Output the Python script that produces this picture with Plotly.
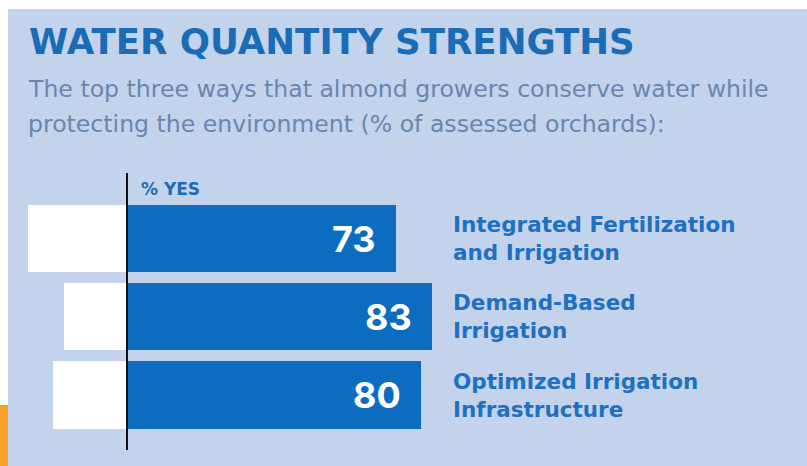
import plotly.graph_objects as go

categories = ["Integrated Fertilization<br>and Irrigation",
              "Demand-Based<br>Irrigation",
              "Optimized Irrigation<br>Infrastructure"]
yes_vals = [73, 83, 80]
no_vals = [27, 17, 20]
value_labels = ["73", "83", "80"]

W, H = 807, 466
BG = "#c3d3ec"
BAR_BLUE = "#0b6cc0"
TITLE_BLUE = "#1a6cb6"
LABEL_BLUE = "#1f70c0"
SUB_GRAY = "#6a86ad"

ypos = list(range(len(categories)))

fig = go.Figure()
fig.add_trace(go.Bar(y=ypos, x=[-v for v in no_vals], orientation="h",
                     marker=dict(color="white", line=dict(width=0)),
                     width=0.86, hoverinfo="skip", showlegend=False))
fig.add_trace(go.Bar(y=ypos, x=yes_vals, orientation="h",
                     marker=dict(color=BAR_BLUE, line=dict(width=0)),
                     width=0.86, hoverinfo="skip", showlegend=False))

s = 3.68
x0 = -127 / s
x1 = (W - 127) / s
yc, yu = 238.5, 78.3
y_top = -yc / yu
y_bot = (H - yc) / yu

annotations = []
for i, (v, t) in enumerate(zip(yes_vals, value_labels)):
    annotations.append(dict(x=v, y=i, xref="x", yref="y", text=t, showarrow=False,
                            xanchor="right", yanchor="middle", xshift=-18,
                            font=dict(family="Inter", size=36, color="white", weight="bold")))
for i, c in enumerate(categories):
    annotations.append(dict(x=451 / W, y=i, xref="paper", yref="y", text=c, showarrow=False,
                            xanchor="left", yanchor="middle", align="left",
                            font=dict(family="DejaVu Sans", size=21.5, color=LABEL_BLUE, weight="bold")))
annotations.append(dict(x=27 / W, y=1 - 41 / H, xref="paper", yref="paper",
                        text="WATER QUANTITY STRENGTHS", showarrow=False,
                        xanchor="left", yanchor="middle",
                        font=dict(family="DejaVu Sans", size=35.6, color=TITLE_BLUE, weight="bold")))
annotations.append(dict(x=26 / W, y=1 - 89 / H, xref="paper", yref="paper",
                        text="The top three ways that almond growers conserve water while",
                        showarrow=False, xanchor="left", yanchor="middle",
                        font=dict(family="DejaVu Sans", size=23.6, color=SUB_GRAY)))
annotations.append(dict(x=26 / W, y=1 - 124 / H, xref="paper", yref="paper",
                        text="protecting the environment (% of assessed orchards):",
                        showarrow=False, xanchor="left", yanchor="middle",
                        font=dict(family="DejaVu Sans", size=23.6, color=SUB_GRAY)))
annotations.append(dict(x=139 / W, y=1 - 189 / H, xref="paper", yref="paper",
                        text="% YES", showarrow=False, xanchor="left", yanchor="middle",
                        font=dict(family="DejaVu Sans", size=17, color=TITLE_BLUE, weight="bold")))

shapes = [
    dict(type="rect", xref="paper", yref="paper", x0=8 / W, x1=1, y0=0, y1=1 - 9 / H,
         fillcolor=BG, line=dict(width=0), layer="below"),
    dict(type="rect", xref="paper", yref="paper", x0=0, x1=8 / W, y0=0, y1=1 - 405 / H,
         fillcolor="#f6a02a", line=dict(width=0), layer="below"),
    dict(type="line", xref="x", yref="y", x0=0, x1=0,
         y0=(173 - yc) / yu, y1=(450 - yc) / yu,
         line=dict(color="#111111", width=2), layer="above"),
]

fig.update_layout(
    width=W, height=H, margin=dict(l=0, r=0, t=0, b=0),
    paper_bgcolor="white", plot_bgcolor="rgba(0,0,0,0)",
    barmode="relative", bargap=0,
    xaxis=dict(range=[x0, x1], visible=False, fixedrange=True),
    yaxis=dict(range=[y_bot, y_top], visible=False, fixedrange=True),
    annotations=annotations, shapes=shapes, showlegend=False,
)

fig.write_html("out.html", config={"displayModeBar": False},
               post_script="document.body.style.margin='0';document.body.style.overflow='hidden';")
